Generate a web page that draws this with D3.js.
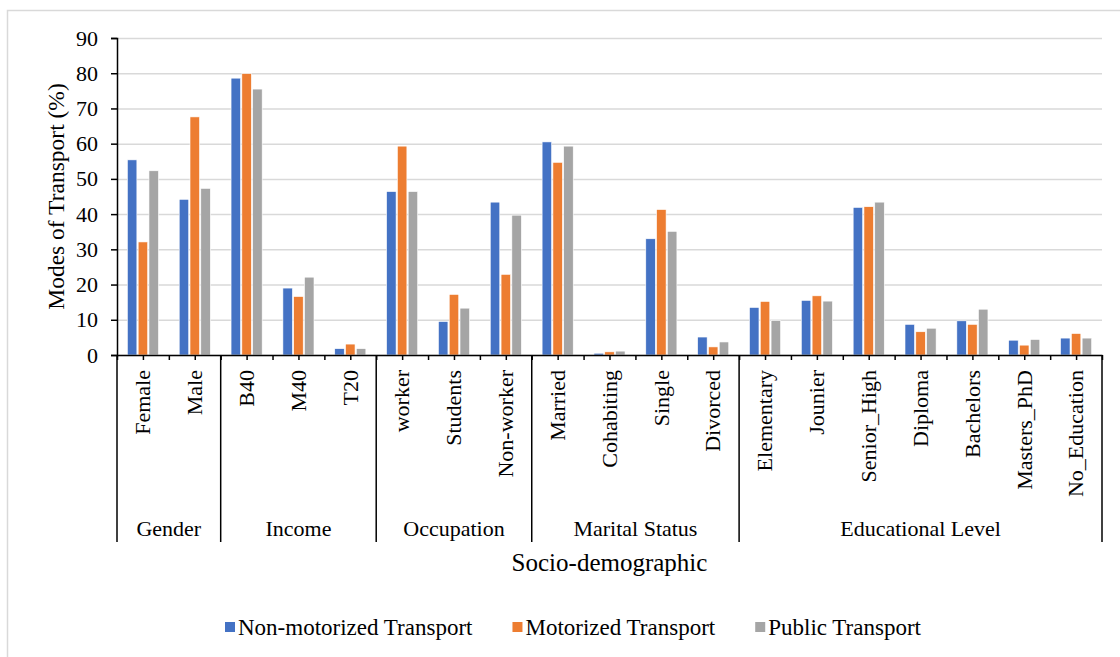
<!DOCTYPE html>
<html>
<head>
<meta charset="utf-8">
<script src="https://cdn.jsdelivr.net/npm/d3@7"></script>
<style>
  body { margin: 0; background: #fff; }
  svg { display: block; font-family: "Liberation Serif", "Times New Roman", serif; }
</style>
</head>
<body>
<svg id="chart" width="1120" height="657"></svg>
<script>
// chart data
var categories = ["Female", "Male", "B40", "M40", "T20", "worker", "Students", "Non-worker",
    "Married", "Cohabiting", "Single", "Divorced", "Elementary", "Jounier", "Senior_High",
    "Diploma", "Bachelors", "Masters_PhD", "No_Education"];
var groupNames = ["Gender", "Income", "Occupation", "Marital Status", "Educational Level"];
var groupSizes = [2, 3, 3, 4, 7];
var seriesNames = ["Non-motorized Transport", "Motorized Transport", "Public Transport"];
var nonMotorized = [55.4, 44.2, 78.6, 19.0, 1.8, 46.4, 9.5, 43.4, 60.5, 0.5, 33.0, 5.1, 13.5, 15.5, 41.9, 8.7, 9.7, 4.2, 4.8];
var motorized    = [32.1, 67.6, 79.9, 16.6, 3.1, 59.3, 17.2, 22.9, 54.7, 0.9, 41.3, 2.3, 15.2, 16.8, 42.1, 6.6, 8.7, 2.8, 6.1];
var publicT      = [52.3, 47.3, 75.5, 22.1, 1.8, 46.4, 13.3, 39.7, 59.3, 1.1, 35.1, 3.7, 9.8, 15.3, 43.4, 7.6, 13.0, 4.4, 4.8];
var yTicks = [0, 10, 20, 30, 40, 50, 60, 70, 80, 90];

var colors = ["#4472C4", "#ED7D31", "#A5A5A5"];
var seriesValues = [nonMotorized, motorized, publicT];

var svg = d3.select("#chart"),
    margin = {top: 38, right: 18, bottom: 302, left: 117},
    width = 1120 - margin.left - margin.right,
    height = 657 - margin.top - margin.bottom;

// outer frame
svg.append("rect")
    .attr("x", 7.5).attr("y", 10.5)
    .attr("width", 1200).attr("height", 700)
    .attr("fill", "none")
    .attr("stroke", "#d9d9d9")
    .attr("stroke-width", 1.5);

var g = svg.append("g")
    .attr("transform", "translate(" + margin.left + "," + margin.top + ")");

var x0 = d3.scaleBand().domain(categories).range([0, width]).padding(0),
    x1 = d3.scaleBand().domain(seriesNames)
        .range([x0.bandwidth() * 0.2, x0.bandwidth() * 0.8]).paddingInner(0.12),
    xIdx = d3.scaleLinear().domain([0, categories.length]).range([0, width]),
    y = d3.scaleLinear().domain([0, 90]).range([height, 0]);

// gridlines
g.append("g")
    .attr("class", "grid")
    .call(d3.axisLeft(y).tickValues(yTicks).tickSize(-width).tickFormat(""))
    .call(function (s) {
        s.select(".domain").remove();
        s.selectAll("line").attr("stroke", "#d9d9d9").attr("stroke-width", 1.5);
    });

// bars
var rows = categories.map(function (c, i) {
    return {name: c, values: seriesNames.map(function (s, j) {
        return {series: s, idx: j, value: seriesValues[j][i]};
    })};
});

g.selectAll(".bar-container")
    .data(rows)
    .enter()
    .append("g")
    .attr("class", "bar-container")
    .attr("transform", function (d) { return "translate(" + x0(d.name) + ",0)"; })
    .selectAll("rect")
    .data(function (d) { return d.values; })
    .enter()
    .append("rect")
    .attr("x", function (d) { return x1(d.series); })
    .attr("y", function (d) { return y(d.value); })
    .attr("width", x1.bandwidth())
    .attr("height", function (d) { return height - y(d.value); })
    .attr("fill", function (d) { return colors[d.idx]; })
    .attr("stroke", "#fff")
    .attr("stroke-width", 0.6);

// y axis
g.append("g")
    .attr("class", "axis axis--y")
    .call(d3.axisLeft(y).tickValues(yTicks).tickSize(6).tickPadding(13))
    .call(function (s) {
        s.attr("font-family", null);
        s.select(".domain").attr("stroke", "#000").attr("stroke-width", 1.5);
        s.selectAll("line").attr("stroke", "#000").attr("stroke-width", 1.5);
        s.selectAll("text").attr("fill", "#000").attr("font-size", "22px");
    });

// x axis (ticks on every half category)
g.append("g")
    .attr("class", "axis axis--x")
    .attr("transform", "translate(0," + height + ")")
    .call(d3.axisBottom(xIdx).tickValues(d3.range(0, categories.length + 0.5, 0.5))
        .tickSize(5).tickSizeOuter(0).tickFormat(""))
    .call(function (s) {
        s.select(".domain").attr("stroke", "#000").attr("stroke-width", 1.5);
        s.selectAll("line").attr("stroke", "#000").attr("stroke-width", 1.5);
    });

// category labels
g.selectAll(".cat-label")
    .data(categories)
    .enter()
    .append("text")
    .attr("class", "cat-label")
    .attr("transform", function (d) {
        return "translate(" + (x0(d) + x0.bandwidth() / 2) + "," + (height + 15) + ") rotate(-90)";
    })
    .attr("text-anchor", "end")
    .attr("dy", "0.33em")
    .attr("font-size", "22px")
    .attr("fill", "#000")
    .text(function (d) { return d; });

// group separators and labels
var bounds = [0];
groupSizes.forEach(function (n, i) { bounds.push(bounds[i] + n); });

g.selectAll(".group-sep")
    .data(bounds)
    .enter()
    .append("line")
    .attr("class", "group-sep")
    .attr("x1", function (d) { return xIdx(d); })
    .attr("x2", function (d) { return xIdx(d); })
    .attr("y1", height)
    .attr("y2", height + 187)
    .attr("stroke", "#000")
    .attr("stroke-width", 1.5);

g.selectAll(".group-label")
    .data(groupNames)
    .enter()
    .append("text")
    .attr("class", "group-label")
    .attr("x", function (d, i) { return xIdx((bounds[i] + bounds[i + 1]) / 2); })
    .attr("y", height + 181)
    .attr("text-anchor", "middle")
    .attr("font-size", "22px")
    .attr("fill", "#000")
    .text(function (d) { return d; });

// axis titles
g.append("text")
    .attr("x", width / 2)
    .attr("y", height + 216)
    .attr("text-anchor", "middle")
    .attr("font-size", "25px")
    .attr("fill", "#000")
    .text("Socio-demographic");

svg.append("text")
    .attr("transform", "translate(64," + (margin.top + height / 2) + ") rotate(-90)")
    .attr("text-anchor", "middle")
    .attr("font-size", "23.5px")
    .attr("fill", "#000")
    .text("Modes of Transport (%)");

// legend
var legend = svg.append("g").attr("class", "legend");
var lx = 225;
seriesNames.forEach(function (s, i) {
    var item = legend.append("g").attr("transform", "translate(" + lx + ",0)");
    item.append("rect")
        .attr("x", 0).attr("y", 622)
        .attr("width", 10).attr("height", 10)
        .attr("fill", colors[i]);
    var t = item.append("text")
        .attr("x", 13).attr("y", 635)
        .attr("font-size", "23px")
        .attr("fill", "#000")
        .text(s);
    lx += 13 + t.node().getComputedTextLength() + 40;
});
</script>
</body>
</html>
